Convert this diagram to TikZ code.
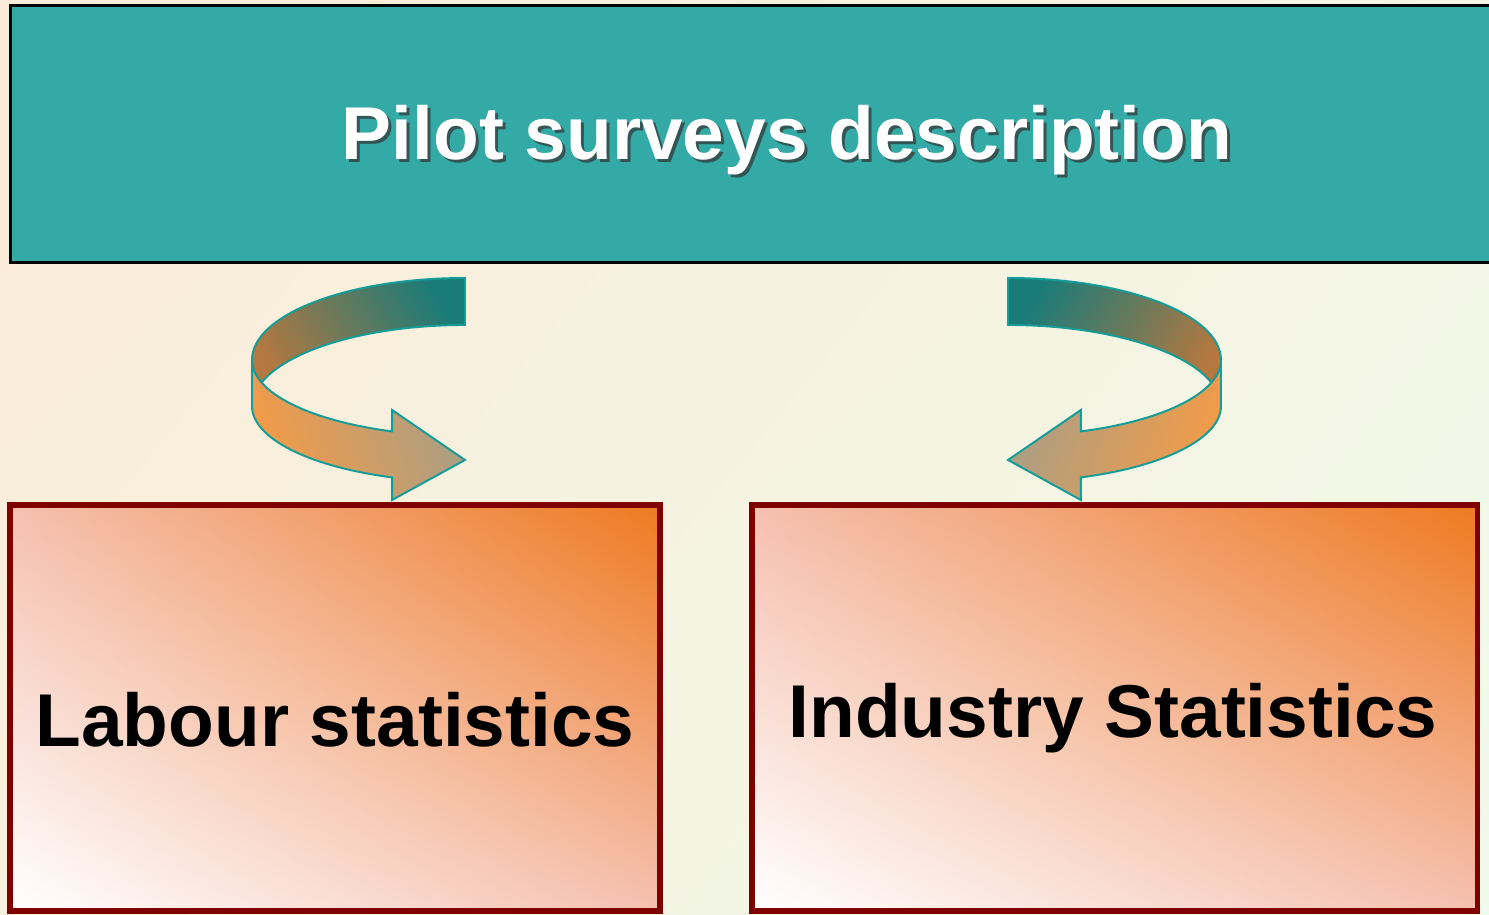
\documentclass[tikz,border=0pt]{standalone}
\usepackage{fontspec}
\setmainfont{Liberation Sans}
\usepackage{xcolor}
\usepackage{tikz}
\usetikzlibrary{shadings}

\definecolor{bgpeach}{RGB}{252,235,216}
\definecolor{bgcream}{RGB}{245,245,228}
\definecolor{bgsand}{RGB}{247,240,222}
\definecolor{bgmint}{RGB}{239,250,234}
\definecolor{headteal}{RGB}{51,170,166}
\definecolor{boxred}{RGB}{128,0,0}
\definecolor{boxorange}{RGB}{238,122,32}
\definecolor{boxsalmon}{RGB}{245,192,176}
\definecolor{arrowteal}{RGB}{27,123,120}
\definecolor{arrowbrown}{RGB}{180,120,64}
\definecolor{arroworange}{RGB}{243,155,71}
\definecolor{arrowtan}{RGB}{168,159,134}
\definecolor{arrowline}{RGB}{19,156,152}

\tikzset{
  headbox/.style={draw=black, line width=1.7pt, fill=headteal},
  statbox/.style={draw=boxred, line width=2.9pt, upper right=boxorange,
    upper left=boxsalmon, lower right=boxsalmon, lower left=white},
  bigtext/.style={font=\fontsize{42.6}{50}\selectfont\bfseries, inner sep=0pt, anchor=base},
  arrowback/.style={draw=arrowline, line width=1.1pt, shading=axis,
    top color=arrowteal, bottom color=arrowbrown, shading angle=#1},
  arrowfront/.style={draw=arrowline, line width=1.1pt, shading=axis,
    top color=arrowtan, bottom color=arroworange, shading angle=#1}
}

\begin{document}
\begin{tikzpicture}[x=0.02cm, y=0.02cm]
        \useasboundingbox (0,0) rectangle (1489,915);
        \clip (0,0) rectangle (1489,915);

        % Page background
        \shade[upper left=bgpeach, upper right=bgcream, lower left=bgsand, lower right=bgmint]
            (0,0) rectangle (1489,915);

        % Title bar
        \draw[headbox] (10.5,909) rectangle (1500,652);
        \node[bigtext, black!80, opacity=0.7] (titleshadow) at (790,752) {Pilot surveys description};
        \node[bigtext, white] (title) at (787,755) {Pilot surveys description};

        % The two statistics boxes
        \draw[statbox] (10,410) rectangle (660,4);
        \draw[statbox] (752,410) rectangle (1477.5,4);
        \node[bigtext] (labour) at (335,168) {Labour statistics};
        \node[bigtext] (industry) at (1113,177) {Industry Statistics};

        % Curved arrows, the right one mirrored (shading angle mirrored by hand)
        \foreach \sx/\ox/\ang in {1/465/-1, -1/1008/1} {
            \begin{scope}[shift={(\ox,555)}, xscale=\sx]
                % back of the ribbon
                \path[arrowback=\ang*60] (0,82) arc[start angle=90, end angle=180, x radius=213, y radius=82]
                    -- (-213,-47) arc[start angle=180, end angle=90, x radius=213, y radius=82] -- cycle;
                % front of the ribbon with the head
                \path[arrowfront=\ang*70] (-213,0) arc[start angle=180, end angle=250, x radius=213, y radius=76]
                    -- (-72.85,-50) -- (0,-100) -- (-72.85,-140) -- (-72.85,-117.42)
                    arc[start angle=250, end angle=180, x radius=213, y radius=76] -- cycle;
            \end{scope}
        }
    \end{tikzpicture}
\end{document}
